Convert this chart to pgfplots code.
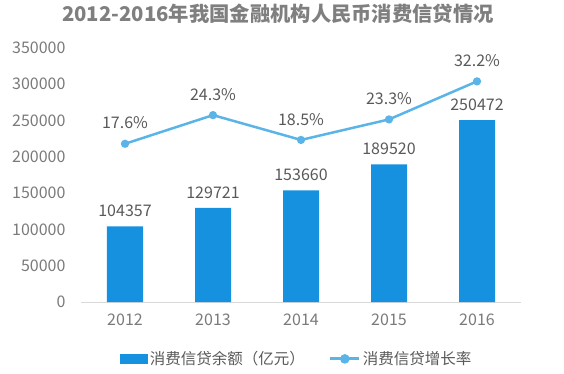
\documentclass[border=0pt]{standalone}
\usepackage{fontspec}
\setmainfont{Noto Sans CJK SC}
\usepackage{pgfplots}
\pgfplotsset{compat=1.18}
\definecolor{barblue}{HTML}{1591E0}
\definecolor{lineblue}{HTML}{5BB4E8}
\definecolor{tickgray}{HTML}{7A7A7A}
\definecolor{labgray}{HTML}{595959}
\definecolor{titlegray}{HTML}{7F7F7F}
\definecolor{axisgray}{HTML}{D9D9D9}
\begin{document}
\begin{tikzpicture}
\useasboundingbox (-81pt,-71pt) rectangle (483pt,302pt);
\begin{axis}[
  scale only axis, width=440pt, height=254pt,
  xmin=-0.5, xmax=4.5, ymin=0, ymax=350000,
  xtick={0,1,2,3,4}, xticklabels={2012,2013,2014,2015,2016},
  ytick={0,50000,...,350000},
  scaled y ticks=false,
  /pgf/number format/assume math mode=true,
  yticklabel style={/pgf/number format/fixed, /pgf/number format/1000 sep={}, font=\fontsize{16}{18}\selectfont, text=tickgray, xshift=-12pt},
  xticklabel style={font=\fontsize{16}{18}\selectfont, text=tickgray, yshift=-8pt},
  axis lines*=left,
  y axis line style={draw=none},
  x axis line style={axisgray, line width=0.8pt, -},
  xtick style={draw=none}, ytick style={draw=none},
  legend style={at={(0.49,-0.224)}, anchor=center, draw=none, fill=none, legend columns=2,
    font=\fontsize{15.5}{17}\selectfont, text=labgray, /tikz/every even column/.append style={column sep=22pt}},
  legend cell align=left,
  clip=false,
]
\addplot[ybar, bar width=36pt, fill=barblue, draw=none,
  legend image code/.code={\fill[barblue] (0pt,-5pt) rectangle (28pt,5pt);},
  nodes near coords={\pgfmathprintnumber[fixed,1000 sep={}]{\pgfplotspointmeta}},
  every node near coord/.append style={font=\fontsize{16}{18}\selectfont, text=labgray, yshift=6pt}]
  coordinates {(0,104357) (1,129721) (2,153660) (3,189520) (4,250472)};
\addlegendentry{消费信贷余额（亿元）}
\addlegendimage{line width=3pt, color=lineblue, legend image code/.code={\path[draw=lineblue, line width=3pt] (0pt,0pt) -- (29pt,0pt); \path[fill=lineblue] (14.5pt,0pt) circle (3.2pt);}}
\addlegendentry{消费信贷增长率}
\end{axis}
\begin{axis}[
  scale only axis, width=440pt, height=254pt,
  xmin=-0.5, xmax=4.5, ymin=-19.4, ymax=40,
  hide axis, clip=false,
  /pgf/number format/assume math mode=true,
]
\addplot[lineblue, line width=2.5pt, mark=*, mark size=2.8pt,
  nodes near coords={\pgfmathprintnumber[fixed,precision=1,fixed zerofill]{\pgfplotspointmeta}\%},
  every node near coord/.append style={font=\fontsize{16}{18}\selectfont, text=labgray, yshift=10pt}]
  coordinates {(0,17.6) (1,24.3) (2,18.5) (3,23.3) (4,32.2)};
\end{axis}
\node[font=\bfseries\fontsize{20.3}{23}\selectfont, text=titlegray] at (197pt,288pt) {2012-2016年我国金融机构人民币消费信贷情况};
\end{tikzpicture}
\end{document}
